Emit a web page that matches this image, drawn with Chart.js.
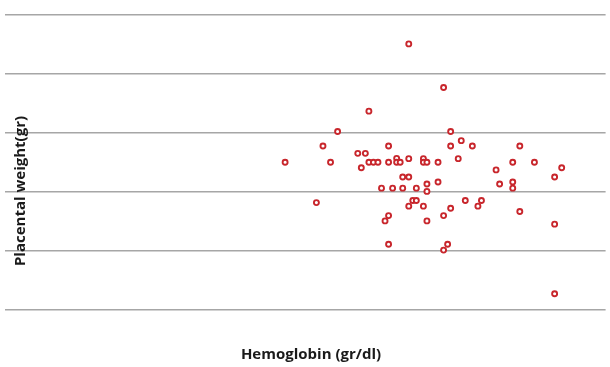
<!DOCTYPE html>
<html>
<head>
<meta charset="utf-8">
<script src="https://cdn.jsdelivr.net/npm/chart.js@4"></script>
<style>
  html, body { margin: 0; padding: 0; background: #fff; }
  #wrap { width: 610px; height: 367px; position: relative; }
</style>
</head>
<body>
<div id="wrap"><canvas id="chart"></canvas></div>
<script>
// Hemoglobin (gr/dl) vs placental weight (gr).
// The source shows no tick labels, so the axis ranges are a best guess.
const hemoglobin = [
  9.55, 10.17, 10.30, 10.45, 10.59, 10.99, 11.14, 11.06, 11.21, 11.21,
  11.30, 11.39, 11.60, 11.60, 11.76, 11.76, 11.83, 12.00, 12.00, 11.46,
  11.68, 11.88, 12.15, 11.88, 12.00, 11.53, 11.60, 11.60, 12.00, 12.08,
  12.15, 12.29, 12.29, 12.36, 12.36, 12.36, 12.29, 12.36, 12.58, 12.58,
  12.69, 12.69, 12.69, 12.77, 12.83, 12.83, 12.83, 12.98, 13.04, 13.12,
  13.26, 13.37, 13.44, 13.73, 13.80, 14.06, 14.06, 14.06, 14.20, 14.20,
  14.49, 14.89, 14.89, 14.89, 15.03
]
const placentalWeight = [
  501, 364, 556, 501, 605, 531, 531, 482, 674, 501,
  501, 501, 556, 501, 514, 501, 501, 513, 902, 413,
  413, 413, 413, 451, 451, 302, 320, 223, 352, 371,
  371, 513, 501, 501, 427, 402, 352, 302, 501, 434,
  754, 320, 203, 223, 605, 556, 345, 513, 574, 371,
  556, 352, 371, 475, 427, 501, 434, 413, 556, 334,
  501, 451, 291, 55, 482
]

const xTitle = "Hemoglobin (gr/dl)"
const yTitle = "Placental weight(gr)"

// axis titles sit on top of the gridlines in the source, so draw them by hand
const axisTitles = {
  id: "axisTitles",
  afterDraw(chart) {
    const ctx = chart.ctx
    ctx.save()
    ctx.fillStyle = "#1a1a1a"
    ctx.font = "bold 15px 'Open Sans'"
    ctx.textAlign = "center"
    ctx.textBaseline = "middle"
    ctx.fillText(xTitle, 311, 355)
    ctx.translate(21, 191)
    ctx.rotate(-Math.PI / 2)
    ctx.fillText(yTitle, 0, 0)
    ctx.restore()
  }
}

new Chart(document.getElementById("chart"), {
  type: "scatter",
  data: {
    datasets: [{
      data: hemoglobin.map((x, i) => ({ x, y: placentalWeight[i] })),
      borderColor: "#c8262c",
      backgroundColor: "#fff",
      borderWidth: 1.9,
      pointRadius: 2.5,
      pointHoverRadius: 2.5
    }]
  },
  options: {
    responsive: true,
    maintainAspectRatio: false,
    animation: false,
    layout: { padding: { left: 5, right: 0, top: 15, bottom: 57 } },
    plugins: {
      legend: { display: false },
      tooltip: { enabled: false }
    },
    scales: {
      x: {
        type: "linear",
        min: 4,
        max: 15.9,
        display: false
      },
      y: {
        min: 0,
        max: 1000,
        ticks: { display: false, stepSize: 200 },
        border: { display: false },
        grid: { color: "#a6a6a6", lineWidth: 1.6, drawTicks: false }
      }
    }
  },
  plugins: [axisTitles]
})
</script>
</body>
</html>
